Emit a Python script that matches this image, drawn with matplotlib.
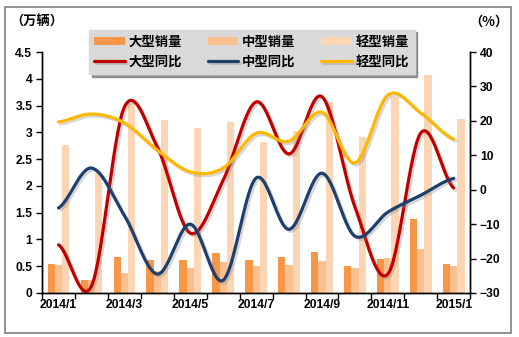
import numpy as np
import matplotlib
matplotlib.use('Agg')
import matplotlib.pyplot as plt
import matplotlib.patheffects as pe
from matplotlib.patches import Rectangle

plt.rcParams['font.family'] = ['Liberation Sans', 'Noto Sans CJK SC', 'DejaVu Sans']

# monthly sales (10k units) and YoY growth (%)
months = ['2014/1', '2014/2', '2014/3', '2014/4', '2014/5', '2014/6', '2014/7',
          '2014/8', '2014/9', '2014/10', '2014/11', '2014/12', '2015/1']
heavy_sales = [0.55, 0.24, 0.67, 0.62, 0.62, 0.75, 0.62, 0.67, 0.77, 0.50, 0.63, 1.38, 0.54]
medium_sales = [0.52, 0.24, 0.37, 0.41, 0.47, 0.58, 0.51, 0.52, 0.60, 0.46, 0.65, 0.82, 0.50]
light_sales = [2.76, 2.24, 3.55, 3.23, 3.08, 3.19, 2.82, 3.02, 3.56, 2.91, 3.66, 4.07, 3.25]
heavy_yoy = [-16.0, -28.0, 24.0, 12.4, -12.6, 2.8, 25.5, 10.4, 27.0, -5.0, -24.5, 16.5, 0.5]
medium_yoy = [-5.3, 6.3, -7.5, -24.5, -10.0, -26.3, 3.4, -11.5, 4.8, -13.5, -6.5, -1.6, 3.3]
light_yoy = [19.7, 22.0, 19.4, 11.5, 5.2, 6.3, 16.4, 14.1, 22.5, 7.8, 27.5, 22.3, 14.7]


def smooth(y, n=30):
    # Catmull-Rom style curve through every point, like a spreadsheet "smoothed line"
    y = np.asarray(y, dtype=float)
    m = np.empty_like(y)
    m[1:-1] = (y[2:] - y[:-2]) / 2
    m[0] = (y[1] - y[0]) / 2
    m[-1] = (y[-1] - y[-2]) / 2
    xs, ys = [], []
    t = np.linspace(0, 1, n, endpoint=False)
    h00 = 2 * t**3 - 3 * t**2 + 1
    h10 = t**3 - 2 * t**2 + t
    h01 = -2 * t**3 + 3 * t**2
    h11 = t**3 - t**2
    for i in range(len(y) - 1):
        xs.append(i + t)
        ys.append(h00 * y[i] + h10 * m[i] + h01 * y[i + 1] + h11 * m[i + 1])
    xs.append([len(y) - 1])
    ys.append([y[-1]])
    return np.concatenate(xs), np.concatenate(ys)


fig = plt.figure(figsize=(5.19, 3.37), dpi=100)
ax = fig.add_axes([0.081, 0.1306, 0.825, 0.715])
ax2 = ax.twinx()

x = np.arange(len(months))
w = 0.22
c_heavy, c_med, c_light = '#F79646', '#FAC090', '#FCD5B5'
ax.bar(x - w, heavy_sales, w, color=c_heavy, label='大型销量', zorder=2)
ax.bar(x, medium_sales, w, color=c_med, label='中型销量', zorder=2)
ax.bar(x + w, light_sales, w, color=c_light, label='轻型销量', zorder=2)

shadow = [pe.SimpleLineShadow(offset=(1.5, -1.5), shadow_color='#808080', alpha=0.3), pe.Normal()]
for vals, col, lab in [(heavy_yoy, '#C00000', '大型同比'),
                       (medium_yoy, '#1F3F6E', '中型同比'),
                       (light_yoy, '#FFB800', '轻型同比')]:
    sx, sy = smooth(vals)
    ax2.plot(sx, sy, color=col, lw=2.3, label=lab, path_effects=shadow,
             solid_capstyle='round')

ax.set_xlim(-0.5, len(months) - 0.5)
ax.set_ylim(0, 4.5)
ax.set_yticks(np.arange(0, 4.51, 0.5))
ax.set_yticklabels(['0', '0.5', '1', '1.5', '2', '2.5', '3', '3.5', '4', '4.5'])
ax2.set_ylim(-30, 40)
ax2.set_yticks(np.arange(-30, 41, 10))

ax.set_xticks(np.arange(-0.5, len(months), 1))
ax.set_xticklabels([])
ax.set_xticks(x[::2], minor=True)
ax.set_xticklabels(months[::2], minor=True)
ax.tick_params(axis='x', which='major', direction='out', length=4, width=1)
ax.tick_params(axis='x', which='minor', length=0, pad=4)

for lbl in ax.get_xticklabels(minor=True) + ax.get_yticklabels() + ax2.get_yticklabels():
    lbl.set_fontsize(8.7)
    lbl.set_fontweight('bold')
ax.tick_params(axis='y', direction='out', length=4, width=1, pad=3)
ax2.tick_params(axis='y', direction='out', length=4, width=1, pad=3)

for a in (ax, ax2):
    a.spines['top'].set_visible(False)
    for s in ('left', 'right', 'bottom'):
        a.spines[s].set_linewidth(1)

fig.text(0.02, 0.935, '（万辆）', fontsize=9.5, fontweight='bold',
         family=['Noto Sans CJK SC', 'DejaVu Sans'], va='center', ha='left')
fig.text(0.905, 0.935, '（%）', fontsize=9.5, fontweight='bold',
         family=['Noto Sans CJK SC', 'DejaVu Sans'], va='center', ha='left')

h1, l1 = ax.get_legend_handles_labels()
h2, l2 = ax2.get_legend_handles_labels()
handles = [h1[0], h2[0], h1[1], h2[1], h1[2], h2[2]]
labels = [l1[0], l2[0], l1[1], l2[1], l1[2], l2[2]]
leg = fig.legend(handles, labels, ncol=3, loc='upper center',
                 bbox_to_anchor=(0.485, 0.932), frameon=True, fancybox=False,
                 shadow=True, facecolor='#D9D9D9', edgecolor='#D9D9D9',
                 framealpha=1, handlelength=2.3, handleheight=0.6,
                 handletextpad=0.3, columnspacing=1.9, labelspacing=0.42,
                 borderpad=0.4,
                 prop={'family': ['Noto Sans CJK SC', 'DejaVu Sans'],
                       'weight': 'bold', 'size': 9.6})

fig.patches.append(Rectangle((0.01, 0.012), 0.975, 0.966, transform=fig.transFigure,
                             fill=False, edgecolor='#808080', lw=1.2))

fig.savefig('out.png', dpi=100)
